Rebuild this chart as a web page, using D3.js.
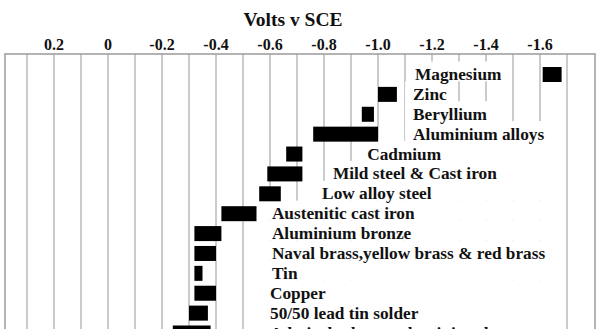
<!DOCTYPE html>
<html>
<head>
<meta charset="utf-8">
<script src="https://cdn.jsdelivr.net/npm/d3@7"></script>
<style>
  body { margin: 0; background: #fff; }
  svg { display: block; }
  text { font-family: "Liberation Serif", "DejaVu Serif", serif; font-weight: bold; fill: #111; }
</style>
</head>
<body>
<div class="container"></div>
<script>
// galvanic series, volts v SCE (from the picture)
const materials = [
    'Magnesium', 'Zinc', 'Beryllium', 'Aluminium alloys', 'Cadmium',
    'Mild steel & Cast iron', 'Low alloy steel', 'Austenitic cast iron',
    'Aluminium bronze', 'Naval brass,yellow brass & red brass', 'Tin',
    'Copper', '50/50 lead tin solder', 'Admiralty brass, aluminium brass'
];
const vFrom = [-1.61, -1.00, -0.94, -0.76, -0.66, -0.59, -0.56, -0.42, -0.32, -0.32, -0.32, -0.32, -0.30, -0.24];
const vTo   = [-1.68, -1.07, -0.985, -1.00, -0.72, -0.72, -0.64, -0.55, -0.42, -0.40, -0.35, -0.40, -0.37, -0.38];

const tickVals = [0.2, 0, -0.2, -0.4, -0.6, -0.8, -1.0, -1.2, -1.4, -1.6];
const tickLabels = ['0.2', '0', '-0.2', '-0.4', '-0.6', '-0.8', '-1.0', '-1.2', '-1.4', '-1.6'];
const gridVals = d3.range(3, -18, -1).map(d => d / 10);

// where each label starts (volts), layout only
const labelAt = [-1.137, -1.13, -1.13, -1.13, -0.96, -0.833, -0.793, -0.607, -0.607, -0.607, -0.607, -0.6, -0.6, -0.6];

const w = 600;
const h = 329;

const svg = d3.select('.container')
    .append('svg')
    .attr('width', w)
    .attr('height', h);

const x = d3.scaleLinear().domain([0, -1.6]).range([108, 540]);
const y = d3.scalePoint().domain(materials).range([74.5, 333]);
const step = y.step();
const barH = 15;

const frame = { left: 5, top: 54, right: 595 };

svg.append('text')
    .attr('x', 293)
    .attr('y', 26)
    .attr('text-anchor', 'middle')
    .style('font-size', '19.5px')
    .text('Volts v SCE');

// gridlines
svg.append('g')
    .selectAll('line')
    .data(gridVals)
    .join('line')
    .attr('x1', d => x(d))
    .attr('x2', d => x(d))
    .attr('y1', frame.top)
    .attr('y2', h + 10)
    .attr('stroke', '#b5b5b5')
    .attr('stroke-width', 1.4);

// frame
svg.append('rect')
    .attr('x', frame.left)
    .attr('y', frame.top)
    .attr('width', frame.right - frame.left)
    .attr('height', h)
    .attr('fill', 'none')
    .attr('stroke', '#9a9a9a')
    .attr('stroke-width', 1.5);

// tick labels
svg.append('g')
    .selectAll('text')
    .data(tickVals)
    .join('text')
    .attr('x', d => x(d))
    .attr('y', 50)
    .attr('text-anchor', 'middle')
    .style('font-size', '16px')
    .text((d, i) => tickLabels[i]);

// white boxes behind the labels, then labels
const boxes = svg.append('g');
const labels = svg.append('g')
    .selectAll('text')
    .data(materials)
    .join('text')
    .attr('x', (d, i) => x(labelAt[i]))
    .attr('y', d => y(d) + 5.5)
    .style('font-size', '17.3px')
    .text(d => d);

labels.each(function (d, i) {
    const len = this.getComputedTextLength();
    const x0 = x(labelAt[i]) - 8;
    const x1 = i >= 3 ? x(-1.66) : x(labelAt[i]) + len + 4;
    boxes.append('rect')
        .attr('x', x0)
        .attr('y', y(d) - 13)
        .attr('width', x1 - x0)
        .attr('height', step)
        .attr('fill', '#fff');
});

// bars
svg.append('g')
    .selectAll('rect')
    .data(materials)
    .join('rect')
    .attr('x', (d, i) => Math.min(x(vFrom[i]), x(vTo[i])))
    .attr('width', (d, i) => Math.abs(x(vTo[i]) - x(vFrom[i])))
    .attr('y', d => y(d) - barH / 2)
    .attr('height', barH)
    .attr('fill', '#000');
</script>
</body>
</html>
